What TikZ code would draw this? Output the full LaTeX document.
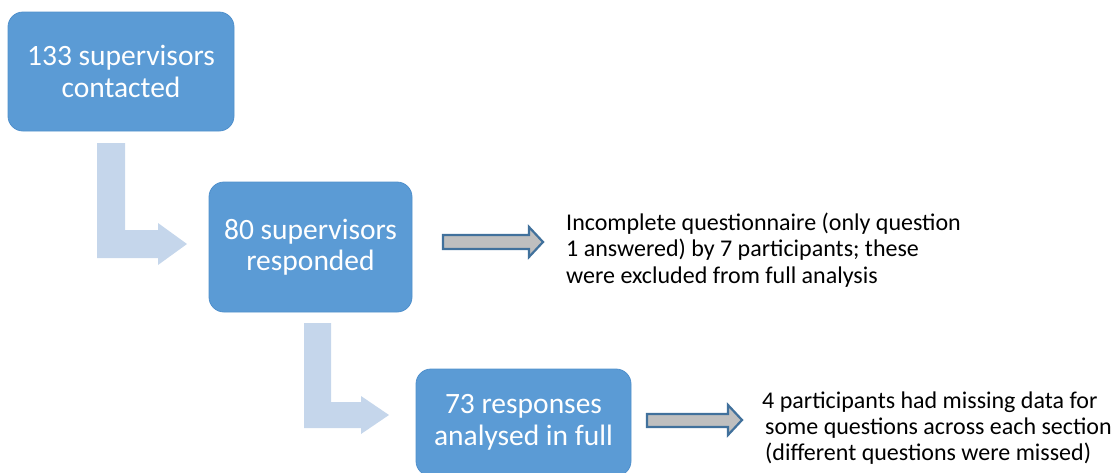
\documentclass[tikz,border=0pt]{standalone}
\usepackage{fontspec}
\setmainfont{Carlito}
\definecolor{boxblue}{HTML}{5B9BD5}
\definecolor{boxedge}{HTML}{5090CC}
\definecolor{paleblue}{HTML}{C5D6EB}
\definecolor{arrowgray}{HTML}{BFBFBF}
\definecolor{arrowedge}{HTML}{41719C}
\begin{document}
\begin{tikzpicture}[x=1pt,y=-1pt,
  stage/.style={draw=boxedge, line width=0.8pt, fill=boxblue, rounded corners=15pt,
    text=white, align=center, inner sep=0pt,
    font=\fontsize{29.5}{31.5}\selectfont},
  note/.style={align=left, anchor=west, inner sep=0pt, text=black,
    font=\fontsize{24}{26.3}\selectfont},
  bent/.style={fill=paleblue, draw=none},
  pointer/.style={fill=arrowgray, draw=arrowedge, line width=2.2pt, line join=miter}]
\useasboundingbox (0,0) rectangle (1120,472);

% stage boxes
\node[stage, minimum width=226pt, minimum height=119pt] (b1) at (121,71.5)
  {133 supervisors\\contacted};
\node[stage, minimum width=203pt, minimum height=130pt] (b2) at (310.5,247)
  {80 supervisors\\responded};
\node[stage, minimum width=215pt, minimum height=107pt] (b3) at (523.5,422.5)
  {73 responses\\analysed in full};

% bent block arrows leading down to the next stage
\fill[bent] (97,143) -- (125,143) -- (125,230) -- (158,230) -- (158,223)
  -- (187,244) -- (158,265) -- (158,258) -- (97,258) -- cycle;
\fill[bent] (304,323) -- (331,323) -- (331,402) -- (361,402) -- (361,396)
  -- (389,415) -- (361,434) -- (361,428) -- (304,428) -- cycle;

% side notes
\node[note] (n1) at (566,250)
  {Incomplete questionnaire (only question\\1 answered) by 7 participants; these\\were excluded from full analysis};
\node[note] (n2) at (762,428)
  {4 participants had missing data for\\\hspace*{3pt}some questions across each section\\\hspace*{3pt}(different questions were missed)};

% grey pointers to the notes
\draw[pointer] (443,235) -- (529,235) -- (529,227) -- (543,242) -- (529,257)
  -- (529,249) -- (443,249) -- cycle;
\draw[pointer] (647,414) -- (728,414) -- (728,405) -- (742,420) -- (728,435)
  -- (728,427) -- (647,427) -- cycle;
\end{tikzpicture}
\end{document}
